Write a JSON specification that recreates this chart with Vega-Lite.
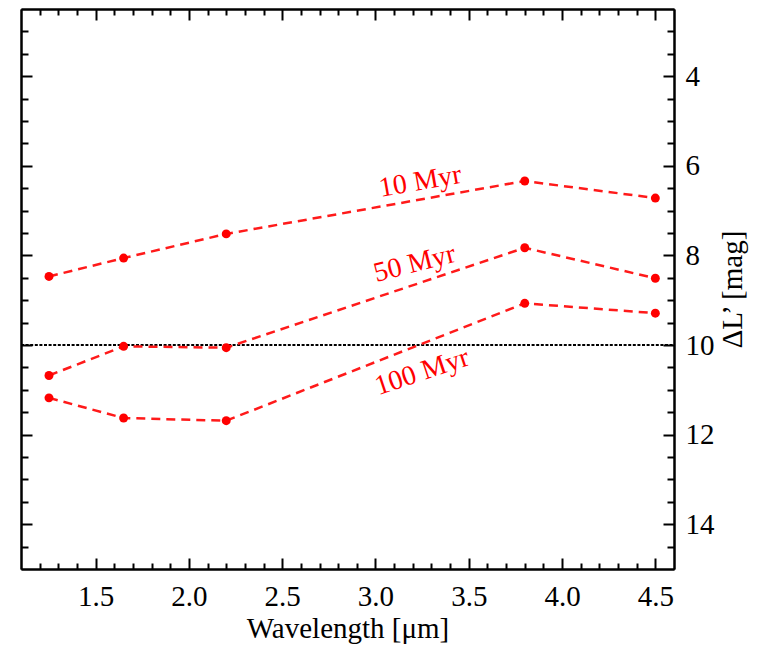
{
  "$schema": "https://vega.github.io/schema/vega-lite/v6.json",
  "width": 653,
  "height": 560,
  "autosize": "none",
  "padding": {"left": 21, "top": 9, "right": 84, "bottom": 77},
  "background": "white",
  "config": {
    "view": {"stroke": null},
    "font": "Liberation Serif",
    "axis": {
      "grid": false,
      "domainColor": "black",
      "domainWidth": 2,
      "tickColor": "black",
      "tickWidth": 2,
      "labelFont": "Liberation Serif",
      "labelFontSize": 29,
      "labelColor": "black",
      "titleFont": "Liberation Serif",
      "titleFontSize": 29,
      "titleFontWeight": "normal",
      "titleColor": "black"
    }
  },
  "datasets": {
    "tracks": [
      {"series": "10 Myr", "wavelength": 1.25, "dmag": 8.47},
      {"series": "10 Myr", "wavelength": 1.65, "dmag": 8.06},
      {"series": "10 Myr", "wavelength": 2.2, "dmag": 7.52},
      {"series": "10 Myr", "wavelength": 3.8, "dmag": 6.34},
      {"series": "10 Myr", "wavelength": 4.5, "dmag": 6.72},
      {"series": "50 Myr", "wavelength": 1.25, "dmag": 10.68},
      {"series": "50 Myr", "wavelength": 1.65, "dmag": 10.03},
      {"series": "50 Myr", "wavelength": 2.2, "dmag": 10.06},
      {"series": "50 Myr", "wavelength": 3.8, "dmag": 7.83},
      {"series": "50 Myr", "wavelength": 4.5, "dmag": 8.51},
      {"series": "100 Myr", "wavelength": 1.25, "dmag": 11.18},
      {"series": "100 Myr", "wavelength": 1.65, "dmag": 11.63},
      {"series": "100 Myr", "wavelength": 2.2, "dmag": 11.69},
      {"series": "100 Myr", "wavelength": 3.8, "dmag": 9.07},
      {"series": "100 Myr", "wavelength": 4.5, "dmag": 9.29}
    ],
    "labels": [
      {"label": "10 Myr", "wavelength": 3.24, "dmag": 6.36},
      {"label": "50 Myr", "wavelength": 3.21, "dmag": 8.19},
      {"label": "100 Myr", "wavelength": 3.25, "dmag": 10.61}
    ],
    "threshold": [
      {"start": 1.1, "end": 4.6, "dmag": 10}
    ]
  },
  "resolve": {"axis": {"x": "independent", "y": "independent"}},
  "layer": [
    {
      "data": {"name": "threshold"},
      "mark": {"type": "rule", "color": "black", "strokeWidth": 1.8, "strokeDash": [3, 1.6]},
      "encoding": {
        "x": {
          "field": "start", "type": "quantitative",
          "scale": {"domain": [1.1, 4.6], "nice": false, "zero": false},
          "axis": {
            "orient": "bottom",
            "values": [1.5, 2.0, 2.5, 3.0, 3.5, 4.0, 4.5],
            "format": ".1f",
            "tickSize": -11,
            "labelPadding": 24,
            "labelFlush": false,
            "title": "Wavelength [μm]",
            "titleX": 326.5,
            "titleY": 68,
            "titleAlign": "center",
            "titleBaseline": "alphabetic",
            "titleAnchor": null
          }
        },
        "x2": {"field": "end"},
        "y": {
          "field": "dmag", "type": "quantitative",
          "scale": {"domain": [2.5, 15], "nice": false, "zero": false, "reverse": true},
          "axis": {
            "orient": "right",
            "values": [4, 6, 8, 10, 12, 14],
            "format": "d",
            "tickSize": -11,
            "labelPadding": 22,
            "labelFlush": false,
            "title": "ΔL’ [mag]",
            "titleAngle": -90,
            "titleX": 58,
            "titleY": 280,
            "titleAlign": "center",
            "titleBaseline": "middle",
            "titleAnchor": null
          }
        }
      }
    },
    {
      "data": {"name": "tracks"},
      "mark": {"type": "line", "color": "#ff1a1a", "strokeWidth": 2.5, "strokeDash": [9, 6]},
      "encoding": {
        "x": {
          "field": "wavelength", "type": "quantitative",
          "axis": {"orient": "top", "values": [1.5, 2.0, 2.5, 3.0, 3.5, 4.0, 4.5], "tickSize": -11, "labels": false, "title": null}
        },
        "y": {
          "field": "dmag", "type": "quantitative",
          "axis": {"orient": "left", "values": [4, 6, 8, 10, 12, 14], "tickSize": -11, "labels": false, "title": null}
        },
        "detail": {"field": "series", "type": "nominal"}
      }
    },
    {
      "data": {"name": "tracks"},
      "mark": {"type": "circle", "color": "#ff0000", "size": 80, "opacity": 1},
      "encoding": {
        "x": {
          "field": "wavelength", "type": "quantitative",
          "axis": {"orient": "bottom", "values": [1.2, 1.3, 1.4, 1.6, 1.7, 1.8, 1.9, 2.1, 2.2, 2.3, 2.4, 2.6, 2.7, 2.8, 2.9, 3.1, 3.2, 3.3, 3.4, 3.6, 3.7, 3.8, 3.9, 4.1, 4.2, 4.3, 4.4], "tickSize": -6, "labels": false, "title": null}
        },
        "y": {
          "field": "dmag", "type": "quantitative",
          "axis": {"orient": "right", "values": [3, 3.5, 4.5, 5, 5.5, 6.5, 7, 7.5, 8.5, 9, 9.5, 10.5, 11, 11.5, 12.5, 13, 13.5, 14.5], "tickSize": -7, "labels": false, "title": null}
        }
      }
    },
    {
      "data": {"name": "labels"},
      "mark": {"type": "text", "color": "#ff0000", "font": "Liberation Serif", "fontSize": 28, "align": "center", "baseline": "middle"},
      "encoding": {
        "x": {
          "field": "wavelength", "type": "quantitative",
          "axis": {"orient": "top", "values": [1.2, 1.3, 1.4, 1.6, 1.7, 1.8, 1.9, 2.1, 2.2, 2.3, 2.4, 2.6, 2.7, 2.8, 2.9, 3.1, 3.2, 3.3, 3.4, 3.6, 3.7, 3.8, 3.9, 4.1, 4.2, 4.3, 4.4], "tickSize": -6, "labels": false, "title": null}
        },
        "y": {
          "field": "dmag", "type": "quantitative",
          "axis": {"orient": "left", "values": [3, 3.5, 4.5, 5, 5.5, 6.5, 7, 7.5, 8.5, 9, 9.5, 10.5, 11, 11.5, 12.5, 13, 13.5, 14.5], "tickSize": -7, "labels": false, "title": null}
        },
        "text": {"field": "label", "type": "nominal"},
        "angle": {"field": "label", "type": "nominal", "scale": {"domain": ["10 Myr", "50 Myr", "100 Myr"], "range": [350, 341.5, 340]}, "legend": null}
      }
    }
  ]
}
